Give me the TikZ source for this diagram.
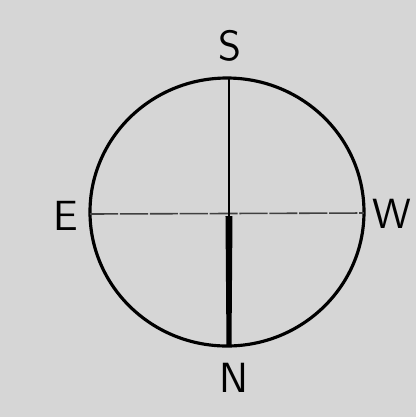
\documentclass[tikz,border=0pt]{standalone}
\begin{document}
\begin{tikzpicture}[x=0.01cm,y=-0.01cm]
    \tikzstyle{every node}+=[inner sep=0pt, font=\fontsize{12}{14}\selectfont\sffamily]
    \fill [black!16] (0,0) rectangle (416,417);
    \draw [black, line width=0.9pt] (227,212) ellipse (137 and 134);
    \draw [black!75, line width=0.45pt, dash pattern=on 8pt off 0.5pt] (90,214) -- (364,213);
    \draw [black, line width=0.6pt] (229,78) -- (229,346);
    \fill [black] (225.5,216) -- (232.5,216) -- (231.5,346) -- (226.5,346) -- cycle;
    \node (s) at (230,46) {S};
    \node (e) at (66,216) {E};
    \node (w) at (392,214) {W};
    \node (n) at (234,378) {N};
\end{tikzpicture}
\end{document}
